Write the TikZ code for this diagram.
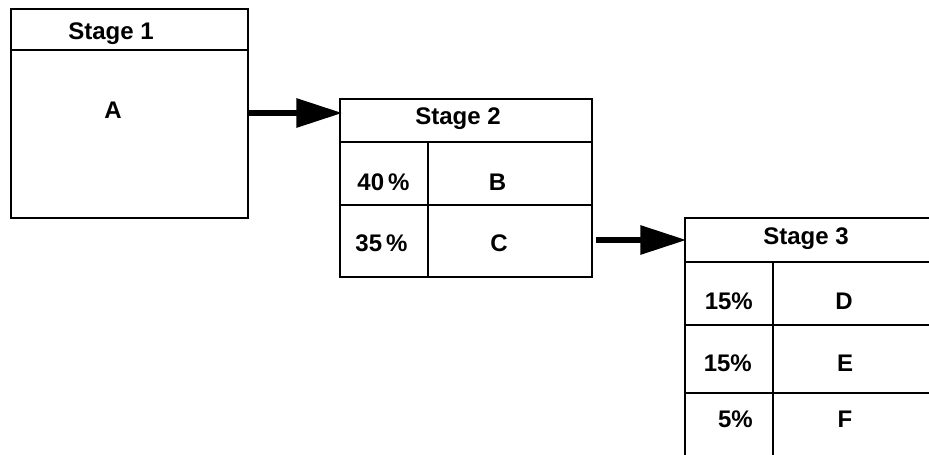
\documentclass[tikz,border=0pt]{standalone}
\usepackage{fontspec}
\setmainfont{Liberation Sans}
\usetikzlibrary{arrows.meta}
\tikzset{
  cell/.style = {draw, line width=1.2pt, inner sep=0pt},
  txt/.style  = {font=\fontsize{24}{28}\selectfont\bfseries, inner sep=0pt,
                 text height=17pt, text depth=0pt},
  ar/.style   = {-{Triangle[length=46pt,width=28pt]}, line width=6pt},
}
\begin{document}
\begin{tikzpicture}[x=1pt,y=-1pt]
\clip (0,0) rectangle (929,455);

% stage 1
\node[cell, minimum width=237, minimum height=41]  (s1head) at (129.5,29.5) {};
\node[cell, minimum width=237, minimum height=168] (s1body) at (129.5,134) {};
\node[txt] (t1) at (111,30.5) {Stage 1};
\node[txt] (ta) at (113,109.5) {A};

% stage 2
\node[cell, minimum width=252, minimum height=43] (s2head) at (466,120.5) {};
\node[cell, minimum width=88,  minimum height=63] (s2pb) at (384,173.5) {};
\node[cell, minimum width=164, minimum height=63] (s2b)  at (510,173.5) {};
\node[cell, minimum width=88,  minimum height=72] (s2pc) at (384,241) {};
\node[cell, minimum width=164, minimum height=72] (s2c)  at (510,241) {};
\node[txt] (t2)  at (458,116)     {Stage 2};
\node[txt] (tpb) at (383.5,181.5) {40\,\%};
\node[txt] (tb)  at (497.5,181.5) {B};
\node[txt] (tpc) at (381.5,242.5) {35\,\%};
\node[txt] (tc)  at (499,242.5)   {C};

% stage 3
\node[cell, minimum width=252, minimum height=44] (s3head) at (811,240) {};
\node[cell, minimum width=88,  minimum height=63] (s3pd) at (729,293.5) {};
\node[cell, minimum width=164, minimum height=63] (s3d)  at (855,293.5) {};
\node[cell, minimum width=88,  minimum height=68] (s3pe) at (729,359) {};
\node[cell, minimum width=164, minimum height=68] (s3e)  at (855,359) {};
\node[cell, minimum width=88,  minimum height=77] (s3pf) at (729,431.5) {};
\node[cell, minimum width=164, minimum height=77] (s3f)  at (855,431.5) {};
\node[txt] (t3)  at (806,236)          {Stage 3};
\node[txt, anchor=east] (tpd) at (753,301)   {15\%};
\node[txt] (td)  at (844,301)          {D};
\node[txt, anchor=east] (tpe) at (752,362.5) {15\%};
\node[txt] (te)  at (845,362.5)        {E};
\node[txt, anchor=east] (tpf) at (753,418.5) {5\%};
\node[txt] (tf)  at (845,418.5)        {F};

% links
\coordinate (tip1) at ([shift={(3,-7.5)}]s2head.west);
\draw[ar] (s1body.east |- tip1) -- (tip1);
\coordinate (tip2) at ([xshift=2pt]s3head.west);
\coordinate (from2) at ([xshift=3pt]s2c.east);
\draw[ar] (from2 |- tip2) -- (tip2);
\end{tikzpicture}
\end{document}
